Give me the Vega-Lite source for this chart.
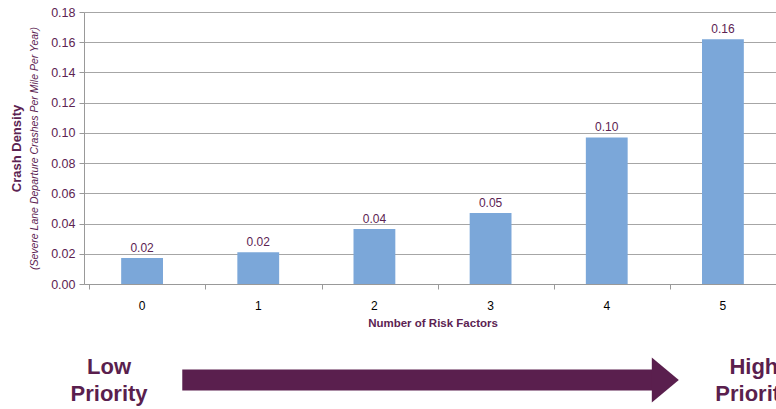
{
  "$schema": "https://vega.github.io/schema/vega-lite/v6.json",
  "padding": {"left": 10, "top": 6, "right": 0, "bottom": 0},
  "background": "white",
  "config": {
    "font": "Liberation Sans",
    "view": {"stroke": null},
    "concat": {"spacing": 15}
  },
  "datasets": {
    "bars": [
      {"risk": "0", "density": 0.0172},
      {"risk": "1", "density": 0.021},
      {"risk": "2", "density": 0.0364},
      {"risk": "3", "density": 0.047},
      {"risk": "4", "density": 0.097},
      {"risk": "5", "density": 0.162}
    ],
    "labels": [
      {"pos": 3.6, "label": "Low\nPriority"},
      {"pos": 96.1, "label": "High\nPriority"}
    ],
    "arrow": [
      {"start": 14.1, "end": 82.5}
    ],
    "head": [
      {"pos": 83.4}
    ]
  },
  "vconcat": [
    {
      "width": 697,
      "height": 272,
      "data": {"name": "bars"},
      "layer": [
        {
          "mark": {"type": "bar", "color": "#7BA7D9", "width": {"band": 0.4}},
          "encoding": {
            "x": {
              "field": "risk", "type": "ordinal",
              "axis": {
                "labelAngle": 0, "labelColor": "#000000", "labelFontSize": 12,
                "labelPadding": 11, "tickColor": "#999999", "tickSize": 5,
                "domainColor": "#999999", "bandPosition": 0,
                "title": "Number of Risk Factors", "titleColor": "#5C2352",
                "titleFontSize": 11.5, "titleFontWeight": "bold", "titlePadding": 6
              }
            },
            "y": {
              "field": "density", "type": "quantitative",
              "scale": {"domain": [0, 0.18]},
              "axis": {
                "values": [0, 0.02, 0.04, 0.06, 0.08, 0.1, 0.12, 0.14, 0.16, 0.18],
                "format": ".2f", "labelColor": "#5C2352", "labelFontSize": 12.5,
                "labelPadding": 4, "tickColor": "#999999", "tickSize": 5,
                "domainColor": "#999999", "gridColor": "#A6A6A6",
                "title": "(Severe Lane Departure Crashes Per Mile Per Year)",
                "titleColor": "#5C2352", "titleFontSize": 10.5,
                "titleFontStyle": "italic", "titleFontWeight": "normal",
                "titlePadding": 11
              }
            }
          }
        },
        {
          "mark": {"type": "text", "dy": -10, "color": "#5C2352", "fontSize": 12},
          "encoding": {
            "x": {"field": "risk", "type": "ordinal"},
            "y": {"field": "density", "type": "quantitative"},
            "text": {"field": "density", "type": "quantitative", "format": ".2f"}
          }
        },
        {
          "mark": {"type": "point", "opacity": 0},
          "encoding": {
            "x": {"field": "risk", "type": "ordinal"},
            "y": {
              "field": "density", "type": "quantitative",
              "scale": {"domain": [0, 0.18]},
              "axis": {
                "orient": "left",
                "labels": false, "ticks": false, "domain": false, "grid": false,
                "title": "Crash Density", "titleColor": "#5C2352",
                "titleFontSize": 13, "titleFontWeight": "bold", "titlePadding": 61
              }
            }
          }
        }
      ],
      "resolve": {"axis": {"y": "independent"}}
    },
    {
      "width": 697,
      "height": 58,
      "layer": [
        {
          "data": {"name": "arrow"},
          "mark": {"type": "rule", "color": "#5A1F4E", "strokeWidth": 21},
          "encoding": {
            "x": {"field": "start", "type": "quantitative", "scale": {"domain": [0, 100]}, "axis": null},
            "x2": {"field": "end"},
            "y": {"datum": 0.38, "type": "quantitative", "scale": {"domain": [0, 1]}, "axis": null}
          }
        },
        {
          "data": {"name": "head"},
          "mark": {"type": "point", "filled": true, "opacity": 1, "color": "#5A1F4E",
                   "shape": "M -0.6 -1 L 0.6 0 L -0.6 1 Z", "size": 2025},
          "encoding": {
            "x": {"field": "pos", "type": "quantitative", "scale": {"domain": [0, 100]}, "axis": null},
            "y": {"datum": 0.38, "type": "quantitative", "scale": {"domain": [0, 1]}, "axis": null}
          }
        },
        {
          "data": {"name": "labels"},
          "mark": {"type": "text", "lineBreak": "\n", "fontSize": 22, "fontWeight": "bold",
                   "color": "#5A1F4E", "lineHeight": 27, "baseline": "middle"},
          "encoding": {
            "x": {"field": "pos", "type": "quantitative", "scale": {"domain": [0, 100]}, "axis": null},
            "y": {"datum": 0.6, "type": "quantitative", "scale": {"domain": [0, 1]}, "axis": null},
            "text": {"field": "label"}
          }
        }
      ]
    }
  ]
}
